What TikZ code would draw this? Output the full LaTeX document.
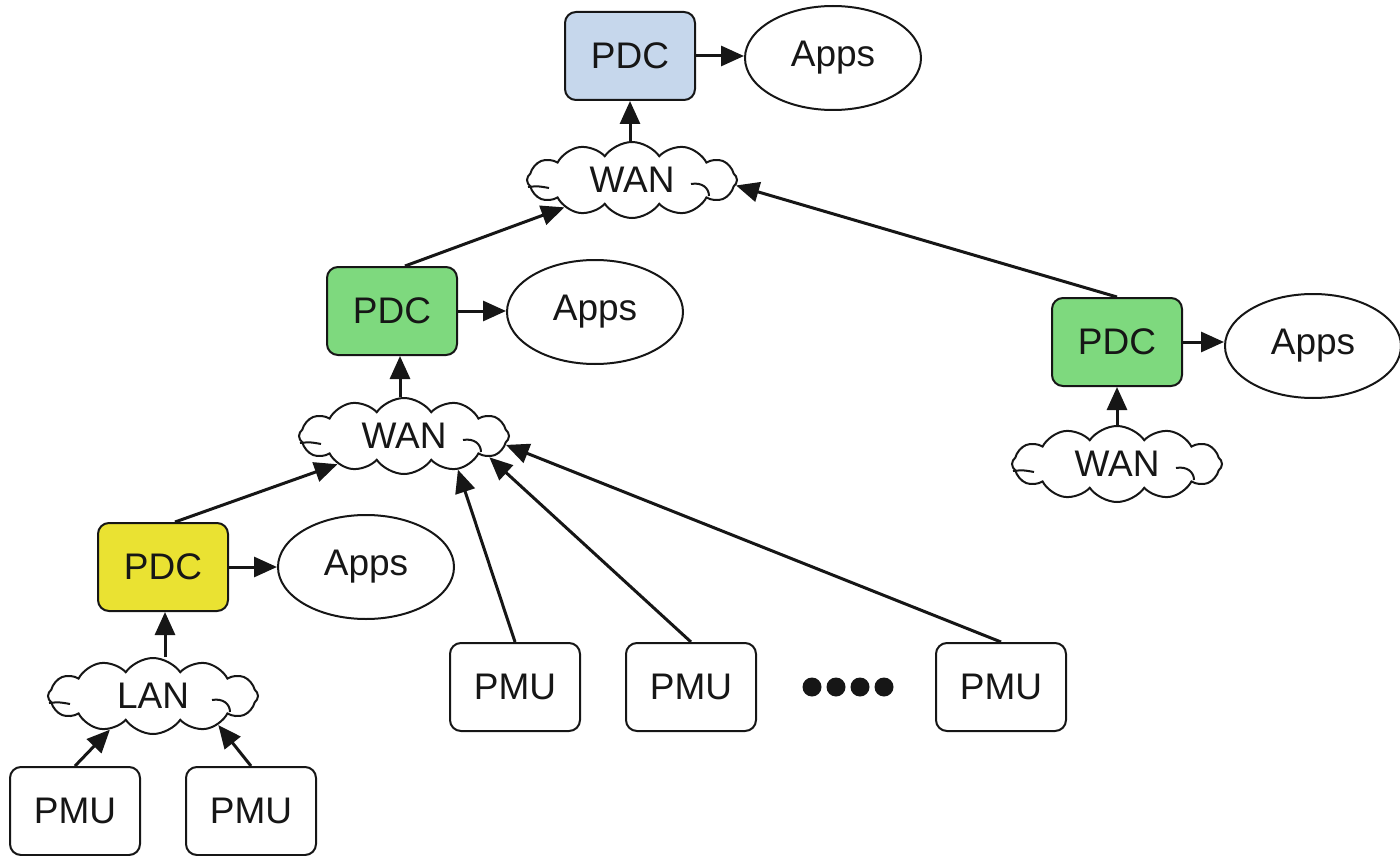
\documentclass[tikz,border=0pt]{standalone}
\usepackage{fontspec}
\setmainfont{Liberation Sans}
\usetikzlibrary{arrows.meta,shapes.symbols,shapes.geometric}
\definecolor{pdcblue}{RGB}{198,215,236}
\definecolor{pdcgreen}{RGB}{126,217,126}
\definecolor{pdcyellow}{RGB}{234,226,50}
\definecolor{ink}{RGB}{22,22,22}
\tikzset{
  lbl/.style={font=\fontsize{37}{44}\selectfont, text=ink},
  box/.style={lbl, draw=ink, line width=2pt, rounded corners=11pt,
    minimum width=130pt, minimum height=88pt, inner sep=0pt},
  pdc/.style={box, fill=#1},
  pmu/.style={box, fill=white},
  apps/.style={lbl, ellipse, draw=ink, line width=2pt, fill=white,
    minimum width=176pt, minimum height=104pt, inner sep=0pt},
  net/.style={lbl, cloud, cloud puffs=12, cloud puff arc=110, cloud ignores aspect,
    draw=ink, line width=2pt, fill=white, minimum width=210pt, minimum height=76pt, inner sep=0pt},
  link/.style={-{Triangle[length=23pt,width=20pt]}, line width=3pt, draw=ink},
  dot/.style={circle, fill=ink, minimum size=19pt, inner sep=0pt},
  curl/.style={draw=ink, line width=2pt}
}
% inner strokes of a cloud outline
\newcommand{\cloudcurls}[1]{%
  \draw[curl] ([shift={(59,4)}]#1.center) .. controls ([shift={(70,2)}]#1.center) and ([shift={(77,8)}]#1.center) .. ([shift={(77,16)}]#1.center);
  \draw[curl] ([shift={(-104,7)}]#1.center) .. controls ([shift={(-94,6)}]#1.center) .. ([shift={(-83,8)}]#1.center);
}
\begin{document}
\begin{tikzpicture}[x=1pt, y=-1pt]
\useasboundingbox (0,0) rectangle (1400,856);

% top level
\node[pdc=pdcblue] (pdcT) at (630,56) {PDC};
\node[apps] (appsT) at (833,58) {Apps};
\node[net] (wanT) at (632,180) {WAN};

% middle level (left branch)
\node[pdc=pdcgreen] (pdcM) at (392,311) {PDC};
\node[apps] (appsM) at (595,312) {Apps};
\node[net] (wanM) at (404,436) {WAN};

% right branch
\node[pdc=pdcgreen] (pdcR) at (1117,342) {PDC};
\node[apps] (appsR) at (1313,346) {Apps};
\node[net] (wanR) at (1117,464) {WAN};

% local level
\node[pdc=pdcyellow] (pdcL) at (163,567) {PDC};
\node[apps] (appsL) at (366,567) {Apps};
\node[net] (lan) at (153,696) {LAN};

% measurement units
\node[pmu] (pmu1) at (75,811) {PMU};
\node[pmu] (pmu2) at (251,811) {PMU};
\node[pmu] (pmuA) at (515,687) {PMU};
\node[pmu] (pmuB) at (691,687) {PMU};
\node[pmu] (pmuC) at (1001,687) {PMU};
\node[dot] (d1) at (812,687) {};
\node[dot] (d2) at (836,687) {};
\node[dot] (d3) at (860,687) {};
\node[dot] (d4) at (884,687) {};

\cloudcurls{wanT}
\cloudcurls{wanM}
\cloudcurls{wanR}
\cloudcurls{lan}

% data flow
\draw[link] (pdcT.east) -- (pdcT.east -| appsT.west);
\draw[link] (pdcM.east) -- (pdcM.east -| appsM.west);
\draw[link] (pdcR.east) -- (pdcR.east -| appsR.west);
\draw[link] (pdcL.east) -- (pdcL.east -| appsL.west);

\draw[link] (wanT.north -| pdcT.south) -- (pdcT.south);
\draw[link] ([xshift=-4pt]wanM.north) -- ([xshift=-4pt]wanM.north |- pdcM.south);
\draw[link] (wanR.north) -- (pdcR.south);
\draw[link] ([xshift=12pt]lan.north) -- ([xshift=12pt]lan.north |- pdcL.south);

\draw[link] ([xshift=13pt]pdcM.north) -- (wanT.-158);
\draw[link] (pdcR.north) -- (wanT.-3);
\draw[link] ([xshift=12pt]pdcL.north) -- (wanM.-157);

\draw[link] (pmuA.north) -- (wanM.-32);
\draw[link] (pmuB.north) -- (wanM.-14);
\draw[link] (pmuC.north) -- (wanM.-5);

\draw[link] (pmu1.north) -- (lan.-142);
\draw[link] (pmu2.north) -- (lan.-24);
\end{tikzpicture}
\end{document}
